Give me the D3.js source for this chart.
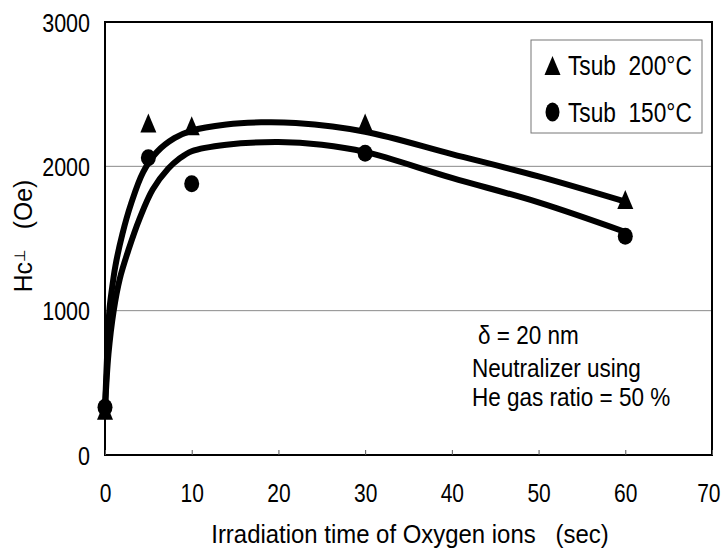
<!DOCTYPE html>
<html>
<head>
<meta charset="utf-8">
<script src="https://cdn.jsdelivr.net/npm/d3@7"></script>
<style>
  body { margin: 0; background: #fff; }
  text { font-family: "Liberation Sans", Arial, sans-serif; fill: #000; }
</style>
</head>
<body>
<div id="plotDiv"></div>
<script>
// axis ticks
var xTicks = [0, 10, 20, 30, 40, 50, 60, 70];
var yTicks = [0, 1000, 2000, 3000];
var gridValues = [1000, 2000];

// measured points
var timeSec = [0, 5, 10, 30, 60];
var hc200 = [300, 2290, 2270, 2290, 1760];
var hc150 = [330, 2060, 1880, 2090, 1515];

// fitted curves
var fit200x = [0, 0.25, 0.5, 0.8, 1.2, 2.0, 3.0, 4.4, 6, 8, 10, 14, 18, 22, 30, 40, 50, 60];
var fit200y = [320, 700, 1000, 1150, 1310, 1530, 1740, 1960, 2100, 2195, 2248, 2290, 2305, 2300, 2240, 2085, 1930, 1755];
var fit150x = [0, 0.4, 1.0, 1.7, 2.7, 4.0, 5.5, 7.3, 8.5, 10, 14, 20, 25, 30, 40, 50, 60];
var fit150y = [320, 700, 1000, 1220, 1420, 1640, 1840, 1985, 2050, 2105, 2150, 2168, 2150, 2100, 1920, 1750, 1545];

var legendLabels = ["Tsub  200\u00B0C", "Tsub  150\u00B0C"];
var noteLines = ["\u03B4 = 20 nm", "Neutralizer using", "He gas ratio = 50 %"];

var margin = {top: 22, right: 15, bottom: 94, left: 105},
    width = 727 - margin.left - margin.right,
    height = 549 - margin.top - margin.bottom;

// squeeze text horizontally (the original uses a narrow typeface)
function condense(sel, k) {
  sel.each(function() {
    var w = this.getComputedTextLength();
    d3.select(this).attr("textLength", w * k).attr("lengthAdjust", "spacingAndGlyphs");
  });
}

var svg = d3.select("#plotDiv")
  .append("svg")
    .attr("width", 727)
    .attr("height", 549)
  .append("g")
    .attr("transform", "translate(" + margin.left + "," + margin.top + ")");

var x = d3.scaleLinear().domain([0, 70]).range([0, width]);
var y = d3.scaleLinear().domain([0, 3000]).range([height, 0]);

// grid lines
svg.selectAll(".grid")
  .data(gridValues)
  .enter().append("line")
    .attr("x1", 0).attr("x2", width)
    .attr("y1", function(d) { return y(d); })
    .attr("y2", function(d) { return y(d); })
    .attr("stroke", "#8a8a8a")
    .attr("stroke-width", 1);

// fitted curves
var line = d3.line()
  .x(function(d) { return x(d[0]); })
  .y(function(d) { return y(d[1]); })
  .curve(d3.curveCatmullRom.alpha(0.5));

[[fit200x, fit200y], [fit150x, fit150y]].forEach(function(f) {
  svg.append("path")
    .datum(d3.zip(f[0], f[1]))
    .attr("d", line)
    .attr("fill", "none")
    .attr("stroke", "#000")
    .attr("stroke-width", 6)
    .attr("stroke-linecap", "round")
    .attr("stroke-linejoin", "round");
});

function triPath(cx, cy) {
  return "M" + cx + "," + (cy - 11) + "L" + (cx + 8) + "," + (cy + 8) + "L" + (cx - 8) + "," + (cy + 8) + "Z";
}

// markers
svg.selectAll(".tri")
  .data(d3.zip(timeSec, hc200))
  .enter().append("path")
    .attr("d", function(d) { return triPath(x(d[0]), y(d[1])); })
    .attr("fill", "#000");

svg.selectAll(".dot")
  .data(d3.zip(timeSec, hc150))
  .enter().append("ellipse")
    .attr("cx", function(d) { return x(d[0]); })
    .attr("cy", function(d) { return y(d[1]); })
    .attr("rx", 7.5).attr("ry", 8.5)
    .attr("fill", "#000");

// frame
svg.append("rect")
  .attr("width", width).attr("height", height)
  .attr("fill", "none")
  .attr("stroke", "#000")
  .attr("stroke-width", 2);

// x axis
var xAxis = svg.append("g")
  .attr("transform", "translate(0," + height + ")")
  .call(d3.axisBottom(x).tickValues(xTicks).tickSize(-5).tickPadding(0).tickFormat(d3.format("d")));
xAxis.select(".domain").remove();
xAxis.selectAll("line").attr("stroke", "#555").attr("stroke-width", 1);
xAxis.selectAll("text")
  .attr("font-size", 25)
  .attr("font-family", null)
  .attr("dy", null)
  .attr("y", 47)
  .call(condense, 0.84);
// last label sits on the page edge, keep it inside
xAxis.selectAll(".tick").filter(function(d) { return d === 70; })
  .select("text").attr("text-anchor", "end").attr("x", 8);

// y axis
var yAxis = svg.append("g")
  .call(d3.axisLeft(y).tickValues(yTicks).tickSize(0).tickPadding(15).tickFormat(d3.format("d")));
yAxis.select(".domain").remove();
yAxis.selectAll("text")
  .attr("font-size", 25)
  .attr("font-family", null)
  .attr("dy", "0.36em")
  .call(condense, 0.86);

// legend
var lg = svg.append("g").attr("transform", "translate(" + (531 - margin.left) + "," + (40 - margin.top) + ")");
lg.append("rect")
  .attr("width", 171).attr("height", 93)
  .attr("fill", "#fff")
  .attr("stroke", "#777").attr("stroke-width", 1);
lg.append("path").attr("d", triPath(21.5, 27)).attr("fill", "#000");
lg.append("ellipse").attr("cx", 21.5).attr("cy", 72).attr("rx", 7).attr("ry", 9.5).attr("fill", "#000");
lg.selectAll(".lt")
  .data(legendLabels)
  .enter().append("text")
    .attr("x", 37)
    .attr("y", function(d, i) { return 35 + i * 47; })
    .attr("font-size", 27)
    .style("white-space", "pre")
    .text(function(d) { return d; })
    .call(condense, 0.84);

// note
svg.selectAll(".note")
  .data(noteLines)
  .enter().append("text")
    .attr("x", function(d, i) { return (i === 0 ? 478 : 472) - margin.left; })
    .attr("y", function(d, i) { return [344, 377, 406][i] - margin.top; })
    .attr("font-size", 25)
    .style("white-space", "pre")
    .text(function(d) { return d; })
    .call(condense, 0.9);

// axis titles
svg.append("text")
  .attr("x", 410 - margin.left)
  .attr("y", 543 - margin.top)
  .attr("text-anchor", "middle")
  .attr("font-size", 26)
  .style("white-space", "pre")
  .text("Irradiation time of Oxygen ions   (sec)")
  .call(condense, 0.92);

var yt = svg.append("text")
  .attr("transform", "translate(" + (32 - margin.left) + "," + (236 - margin.top) + ") rotate(-90)")
  .attr("text-anchor", "middle")
  .attr("font-size", 26)
  .style("white-space", "pre");
yt.append("tspan").text("Hc");
yt.append("tspan").attr("font-size", 15).attr("dy", -7).text("\u22A5");
yt.append("tspan").attr("dy", 7).text("   (Oe)");
yt.call(condense, 0.95);
</script>
</body>
</html>
